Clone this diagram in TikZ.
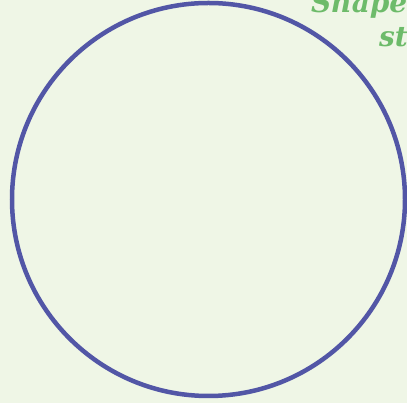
\documentclass[tikz,border=0pt]{standalone}
\usepackage{fontspec}
\setmainfont{DejaVu Serif}
\definecolor{bgc}{HTML}{EFF6E6}
\definecolor{ringc}{HTML}{5256A6}
\definecolor{txtc}{HTML}{6DBB6A}
\tikzset{
  ring/.style={draw=ringc, line width=4.5pt},
  lbl/.style={text=txtc, font=\fontsize{28}{34}\selectfont\bfseries\itshape, inner sep=0pt, anchor=base west}
}
\begin{document}
\begin{tikzpicture}[x=1pt,y=1pt]
\useasboundingbox (0,0) rectangle (407,403);
\clip (0,0) rectangle (407,403);
\fill[bgc] (0,0) rectangle (407,403);
\node[ring, circle, minimum size=393pt, inner sep=0pt] (c) at (208.5,203.5) {};
\node[lbl] (t1) at (311,390.5) {Shape};
\node[lbl] (t2) at (379,356) {style};
\end{tikzpicture}
\end{document}
